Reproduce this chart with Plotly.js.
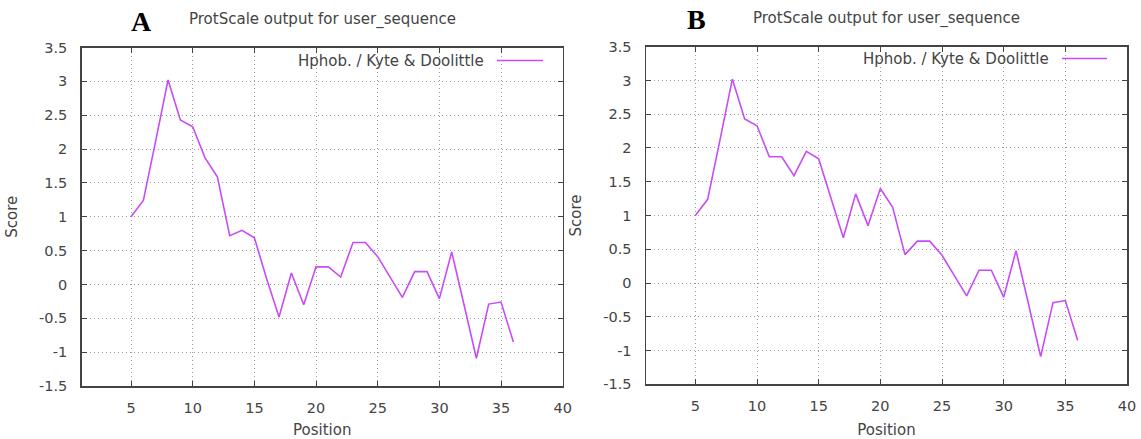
<!DOCTYPE html>
<html>
<head>
<meta charset="utf-8">
<script src="https://cdn.plot.ly/plotly-3.0.1.min.js"></script>
<style>html,body{margin:0;padding:0;background:#fff;}#chart{width:1141px;height:439px;}</style>
</head>
<body>
<div id="chart"></div>
<script>
// ---- data ----
const positions = [5,6,7,8,9,10,11,12,13,14,15,16,17,18,19,20,21,22,23,24,25,26,27,28,29,30,31,32,33,34,35,36];
const scoreA = [1.00,1.24,2.12,3.02,2.43,2.33,1.87,1.59,0.72,0.80,0.69,0.08,-0.48,0.17,-0.30,0.26,0.26,0.11,0.62,0.62,0.41,0.11,-0.19,0.19,0.19,-0.21,0.48,-0.30,-1.09,-0.29,-0.26,-0.85];
const scoreB = [1.00,1.24,2.12,3.02,2.43,2.33,1.87,1.87,1.59,1.95,1.84,1.24,0.67,1.32,0.85,1.40,1.12,0.42,0.62,0.62,0.41,0.11,-0.19,0.19,0.19,-0.21,0.48,-0.30,-1.09,-0.29,-0.26,-0.85];
const xTickVals = [5,10,15,20,25,30,35,40];
const xTickText = ["5","10","15","20","25","30","35","40"];
const yTickVals = [-1.5,-1,-0.5,0,0.5,1,1.5,2,2.5,3,3.5];
const yTickText = ["-1.5","-1","-0.5","0","0.5","1","1.5","2","2.5","3","3.5"];
const panelLabels = ["A","B"];
const chartTitle = "ProtScale output for user_sequence";
const seriesName = "Hphob. / Kyte & Doolittle";
const xTitle = "Position";
const yTitle = "Score";

// ---- layout helpers (pixel -> paper) ----
const W = 1141, H = 439;
const px = x => x / W;
const py = y => 1 - y / H;

const FONT = 'DejaVu Sans';
const TXT = '#444444';
const LINE = '#c84cf5';
const GRID = '#9c9c9c';

function xAxis(l, r, anchor) {
  return {
    domain: [px(l), px(r)], anchor: anchor, range: [1, 40],
    tickmode: 'array', tickvals: xTickVals, ticktext: xTickText,
    ticks: 'inside', ticklen: 5, tickwidth: 1, tickcolor: TXT,
    mirror: 'allticks', showline: true, linecolor: TXT, linewidth: 1.5,
    showgrid: true, gridcolor: GRID, gridwidth: 1, griddash: '1px,3px',
    zeroline: false, ticklabelstandoff: 8,
    tickfont: {family: FONT, size: 14.5, color: TXT},
    title: {text: xTitle, font: {family: FONT, size: 15, color: TXT}, standoff: 12},
    fixedrange: true
  };
}
function yAxis(t, b, anchor) {
  return {
    domain: [py(b), py(t)], anchor: anchor, range: [-1.5, 3.5],
    tickmode: 'array', tickvals: yTickVals, ticktext: yTickText,
    ticks: 'inside', ticklen: 5, tickwidth: 1, tickcolor: TXT,
    mirror: 'allticks', showline: true, linecolor: TXT, linewidth: 1.5,
    showgrid: true, gridcolor: GRID, gridwidth: 1, griddash: '1px,3px',
    zeroline: false, ticklabelstandoff: 10,
    tickfont: {family: FONT, size: 14.5, color: TXT},
    title: {text: yTitle, font: {family: FONT, size: 15, color: TXT}, standoff: 18},
    fixedrange: true
  };
}

const traces = [
  {x: positions, y: scoreA, type: 'scatter', mode: 'lines', name: seriesName,
   line: {color: LINE, width: 1.6}, xaxis: 'x', yaxis: 'y', showlegend: false, hoverinfo: 'skip'},
  {x: positions, y: scoreB, type: 'scatter', mode: 'lines', name: seriesName,
   line: {color: LINE, width: 1.6}, xaxis: 'x2', yaxis: 'y2', showlegend: false, hoverinfo: 'skip'}
];

// panel geometry in pixels: [left, right, top, bottom]
const pA = [81.7, 562.7, 47.5, 386];
const pB = [646, 1127, 46.7, 384.3];

function panelDecor(p, label, labelX, labelY, titleY, keyTextRight, keyY, keyLine, boxLeft) {
  const ann = [
    {text: label, xref: 'paper', yref: 'paper', x: px(labelX), y: py(labelY), xanchor: 'center', yanchor: 'middle',
     showarrow: false, font: {family: 'Liberation Serif', size: 28, color: '#000', weight: 'bold'}},
    {text: chartTitle, xref: 'paper', yref: 'paper', x: px((p[0] + p[1]) / 2), y: py(titleY), xanchor: 'center', yanchor: 'middle',
     showarrow: false, font: {family: FONT, size: 15, color: TXT}},
    {text: seriesName.replace('&', '&amp;'), xref: 'paper', yref: 'paper', x: px(keyTextRight), y: py(keyY), xanchor: 'right', yanchor: 'middle',
     showarrow: false, font: {family: FONT, size: 15, color: TXT}}
  ];
  const shp = [
    {type: 'rect', xref: 'paper', yref: 'paper', x0: px(boxLeft), x1: px(p[1] - 1), y0: py(p[2] + 1), y1: py(keyY + 8),
     fillcolor: '#ffffff', line: {width: 0}, layer: 'between'},
    {type: 'line', xref: 'paper', yref: 'paper', x0: px(keyLine[0]), x1: px(keyLine[1]), y0: py(keyY), y1: py(keyY),
     line: {color: LINE, width: 1.6}}
  ];
  return {ann, shp};
}

const dA = panelDecor(pA, panelLabels[0], 141, 22, 20, 486, 60.5, [497, 543], 240);
const dB = panelDecor(pB, panelLabels[1], 696.5, 20, 19, 1051, 58.5, [1062, 1107], 805);

const layout = {
  width: W, height: H,
  margin: {l: 0, r: 0, t: 0, b: 0},
  paper_bgcolor: '#ffffff', plot_bgcolor: '#ffffff',
  font: {family: FONT, color: TXT},
  showlegend: false,
  xaxis: xAxis(pA[0], pA[1], 'y'),
  yaxis: yAxis(pA[2], pA[3], 'x'),
  xaxis2: xAxis(pB[0], pB[1], 'y2'),
  yaxis2: yAxis(pB[2], pB[3], 'x2'),
  annotations: dA.ann.concat(dB.ann),
  shapes: dA.shp.concat(dB.shp)
};

Plotly.newPlot('chart', traces, layout, {displayModeBar: false, staticPlot: true});
</script>
</body>
</html>
